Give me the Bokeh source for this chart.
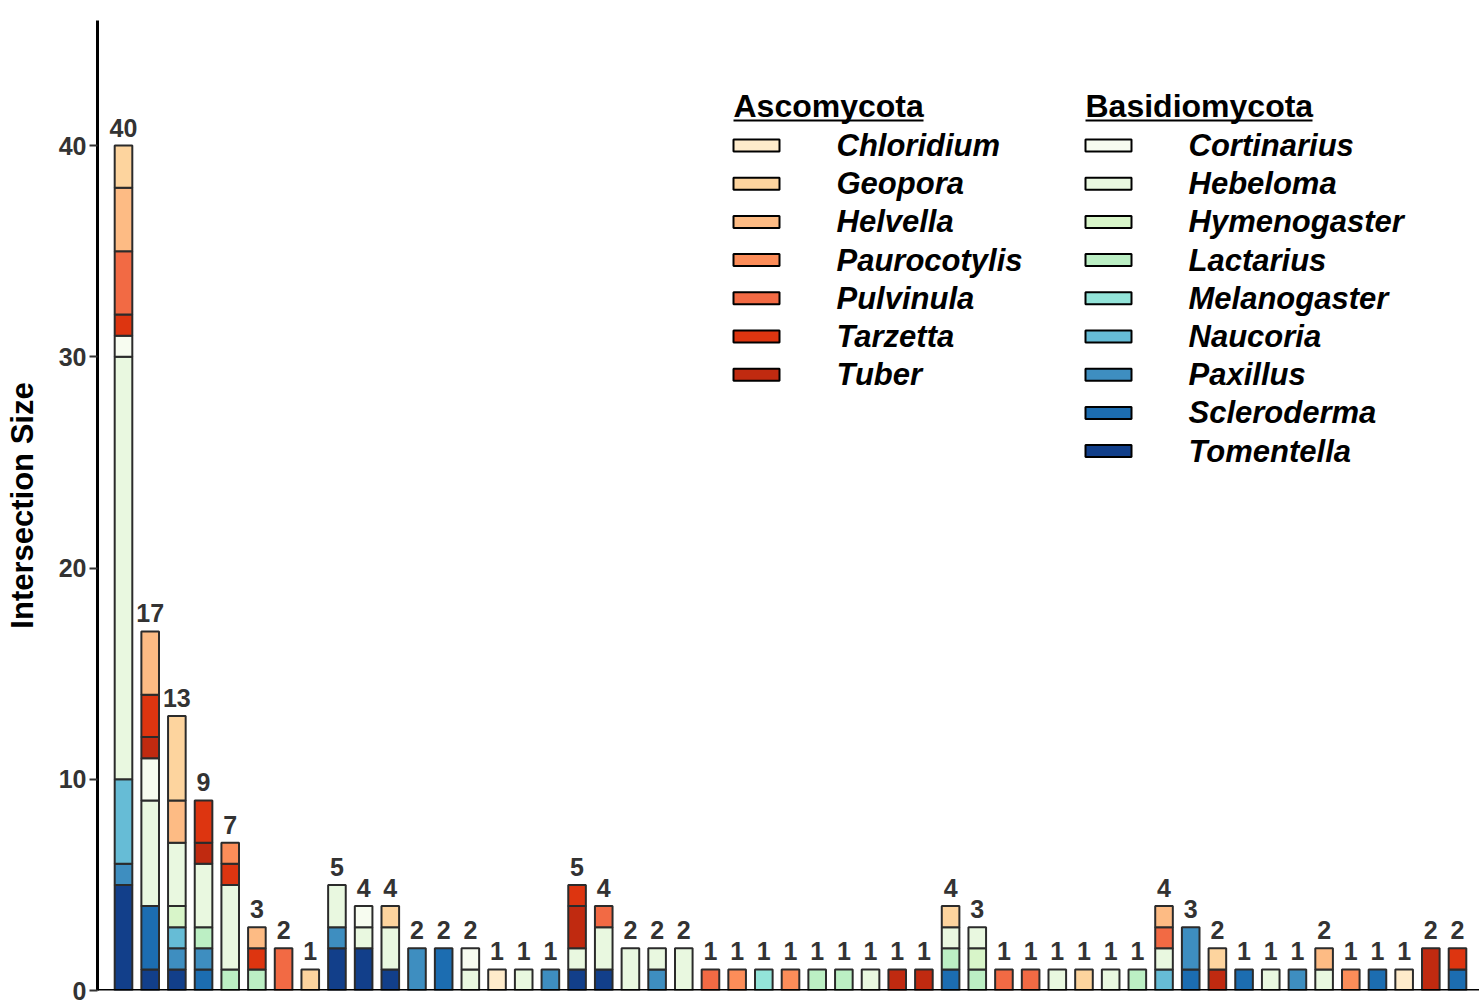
from bokeh.plotting import figure
from bokeh.models import Range1d, Span, ColumnDataSource
from bokeh.embed import file_html
from bokeh.resources import INLINE
from bokeh.core.properties import value

# ---------------- data ----------------
asco = ["Chloridium", "Geopora", "Helvella", "Paurocotylis", "Pulvinula", "Tarzetta", "Tuber"]
basidio = ["Cortinarius", "Hebeloma", "Hymenogaster", "Lactarius", "Melanogaster",
           "Naucoria", "Paxillus", "Scleroderma", "Tomentella"]
asco_colors = ["#feebcb", "#fdd49e", "#fdbb84", "#fc8d59", "#f26a44", "#dd3510", "#c02a10"]
basidio_colors = ["#f7fcf0", "#e9f8e0", "#d8f5c9", "#bcefc4", "#93e4d9",
                  "#66bcd6", "#3e8ec0", "#1c6db1", "#123f8a"]

bars = list(range(1, 52))

Tomentella   = [5,1,1,0,0,0,0,0,2,2, 1,0,0,0,0,0,0,1,1,0, 0,0,0,0,0,0,0,0,0,0, 0,0,0,0,0,0,0,0,0,0, 0,0,0,0,0,0,0,0,0,0,0]
Scleroderma  = [0,3,0,1,0,0,0,0,0,0, 0,0,2,0,0,0,0,0,0,0, 0,0,0,0,0,0,0,0,0,0, 0,1,0,0,0,0,0,0,0,0, 1,0,1,0,0,0,0,1,0,0,1]
Paxillus     = [1,0,1,1,0,0,0,0,1,0, 0,2,0,0,0,0,1,0,0,0, 1,0,0,0,0,0,0,0,0,0, 0,0,0,0,0,0,0,0,0,0, 2,0,0,0,1,0,0,0,0,0,0]
Naucoria     = [4,0,1,0,0,0,0,0,0,0, 0,0,0,0,0,0,0,0,0,0, 0,0,0,0,0,0,0,0,0,0, 0,0,0,0,0,0,0,0,0,1, 0,0,0,0,0,0,0,0,0,0,0]
Melanogaster = [0,0,0,0,0,0,0,0,0,0, 0,0,0,0,0,0,0,0,0,0, 0,0,0,0,1,0,0,0,0,0, 0,0,0,0,0,0,0,0,0,0, 0,0,0,0,0,0,0,0,0,0,0]
Lactarius    = [0,0,0,1,1,1,0,0,0,0, 0,0,0,0,0,0,0,0,0,0, 0,0,0,0,0,0,1,1,0,0, 0,1,1,0,0,0,0,0,1,0, 0,0,0,0,0,0,0,0,0,0,0]
Hymenogaster = [0,0,1,0,0,0,0,0,0,0, 0,0,0,0,0,0,0,0,0,0, 0,0,0,0,0,0,0,0,0,0, 0,0,1,0,0,0,0,0,0,0, 0,0,0,0,0,0,0,0,0,0,0]
Hebeloma     = [20,5,3,3,4,0,0,0,2,1, 2,0,0,1,0,1,0,1,2,2, 1,2,0,0,0,0,0,0,1,0, 0,1,1,0,0,1,0,1,0,1, 0,0,0,1,0,1,0,0,0,0,0]
Cortinarius  = [1,2,0,0,0,0,0,0,0,1, 0,0,0,1,0,0,0,0,0,0, 0,0,0,0,0,0,0,0,0,0, 0,0,0,0,0,0,0,0,0,0, 0,0,0,0,0,0,0,0,0,0,0]
Tuber        = [0,1,0,1,0,0,0,0,0,0, 0,0,0,0,0,0,0,2,0,0, 0,0,0,0,0,0,0,0,0,1, 1,0,0,0,0,0,0,0,0,0, 0,1,0,0,0,0,0,0,0,2,0]
Tarzetta     = [1,2,0,2,1,1,0,0,0,0, 0,0,0,0,0,0,0,1,0,0, 0,0,0,0,0,0,0,0,0,0, 0,0,0,0,0,0,0,0,0,0, 0,0,0,0,0,0,0,0,0,0,1]
Pulvinula    = [3,0,0,0,0,0,2,0,0,0, 0,0,0,0,0,0,0,0,1,0, 0,0,1,0,0,0,0,0,0,0, 0,0,0,1,1,0,0,0,0,1, 0,0,0,0,0,0,0,0,0,0,0]
Paurocotylis = [0,0,0,0,1,0,0,0,0,0, 0,0,0,0,0,0,0,0,0,0, 0,0,0,1,0,1,0,0,0,0, 0,0,0,0,0,0,0,0,0,0, 0,0,0,0,0,0,1,0,0,0,0]
Helvella     = [3,3,2,0,0,1,0,0,0,0, 0,0,0,0,0,0,0,0,0,0, 0,0,0,0,0,0,0,0,0,0, 0,0,0,0,0,0,0,0,0,1, 0,0,0,0,0,1,0,0,0,0,0]
Geopora      = [2,0,4,0,0,0,0,1,0,0, 1,0,0,0,0,0,0,0,0,0, 0,0,0,0,0,0,0,0,0,0, 0,1,0,0,0,0,1,0,0,0, 0,1,0,0,0,0,0,0,0,0,0]
Chloridium   = [0,0,0,0,0,0,0,0,0,0, 0,0,0,0,1,0,0,0,0,0, 0,0,0,0,0,0,0,0,0,0, 0,0,0,0,0,0,0,0,0,0, 0,0,0,0,0,0,0,0,1,0,0]

counts = {
    "Tomentella": Tomentella, "Scleroderma": Scleroderma, "Paxillus": Paxillus,
    "Naucoria": Naucoria, "Melanogaster": Melanogaster, "Lactarius": Lactarius,
    "Hymenogaster": Hymenogaster, "Hebeloma": Hebeloma, "Cortinarius": Cortinarius,
    "Tuber": Tuber, "Tarzetta": Tarzetta, "Pulvinula": Pulvinula,
    "Paurocotylis": Paurocotylis, "Helvella": Helvella, "Geopora": Geopora,
    "Chloridium": Chloridium,
}
color_of = dict(zip(asco + basidio, asco_colors + basidio_colors))
stack_order = basidio[::-1] + asco[::-1]   # bottom -> top

# ---------------- layout constants (pixels, canvas = page) ----------------
W, H = 1479, 1000
BL, BR, BT, BB = 97, 0, 20, 10
PXU_X = 26.68
X0 = 1 - 26 / PXU_X
X1 = X0 + (W - BL - BR) / PXU_X
FRAME_TOP = BT
FRAME_BOTTOM = H - BB
Y0 = 0.0
PXU_Y = 21.125
Y1 = Y0 + (FRAME_BOTTOM - FRAME_TOP) / PXU_Y


def fx(px):
    return X0 + (px - BL) / PXU_X


def fy(py):
    return Y0 + (FRAME_BOTTOM - py) / PXU_Y


# ---------------- build segments ----------------
seg = dict(x=[], bottom=[], top=[], color=[])
totals = []
for i, b in enumerate(bars):
    cum = 0
    for g in stack_order:
        v = counts[g][i]
        if v > 0:
            seg["x"].append(b)
            seg["bottom"].append(cum)
            seg["top"].append(cum + v)
            seg["color"].append(color_of[g])
            cum += v
    totals.append(cum)

p = figure(width=W, height=H, x_range=Range1d(X0, X1), y_range=Range1d(Y0, Y1),
           output_backend="svg", toolbar_location=None,
           min_border_left=BL, min_border_right=BR, min_border_top=BT, min_border_bottom=BB)
p.xaxis.visible = False
p.xgrid.visible = False
p.ygrid.visible = False
p.outline_line_color = None
p.background_fill_color = "white"
p.border_fill_color = "white"

p.yaxis.ticker = [0, 10, 20, 30, 40]
p.yaxis.axis_line_color = "black"
p.yaxis.axis_line_width = 3
p.yaxis.major_tick_line_color = "#333333"
p.yaxis.major_tick_line_width = 2
p.yaxis.major_tick_out = 8
p.yaxis.major_tick_in = 0
p.yaxis.minor_tick_line_color = None
p.yaxis.major_label_text_font = "Liberation Sans"
p.yaxis.major_label_text_font_style = "bold"
p.yaxis.major_label_text_font_size = "25px"
p.yaxis.major_label_text_color = "#333333"
p.yaxis.major_label_standoff = 3
p.yaxis.axis_label = "Intersection Size"
p.yaxis.axis_label_text_font = "Liberation Sans"
p.yaxis.axis_label_text_font_style = "bold"
p.yaxis.axis_label_text_font_size = "31px"
p.yaxis.axis_label_text_color = "black"
p.yaxis.axis_label_standoff = 16

src = ColumnDataSource(seg)
p.vbar(x="x", bottom="bottom", top="top", width=0.66, source=src,
       fill_color="color", line_color="#2b2b2b", line_width=2)

p.add_layout(Span(location=0, dimension="width", line_color="black", line_width=3))

p.text(x=bars, y=totals, text=[str(t) for t in totals],
       text_align="center", text_baseline="bottom", y_offset=-9,
       text_font=value("Liberation Sans"), text_font_style="bold",
       text_font_size="25px", text_color="#333333")

# ---------------- legend ----------------
ROW0, ROWSTEP = 145, 38.2
sw_w, sw_h = 46, 12
for names, cols, sw_left, txt_left, title, tw in [
        (asco, asco_colors, 733, 836, "Ascomycota", 190),
        (basidio, basidio_colors, 1085, 1188, "Basidiomycota", 227)]:
    ys = [ROW0 + k * ROWSTEP for k in range(len(names))]
    p.quad(left=[fx(sw_left)] * len(names), right=[fx(sw_left + sw_w)] * len(names),
           bottom=[fy(y + sw_h / 2) for y in ys], top=[fy(y - sw_h / 2) for y in ys],
           fill_color=cols, line_color="black", line_width=2)
    p.text(x=[fx(txt_left)] * len(names), y=[fy(y) for y in ys], text=names,
           text_align="left", text_baseline="middle",
           text_font=value("Liberation Sans"), text_font_style="bold italic",
           text_font_size="31px", text_color="black")
    p.text(x=[fx(sw_left)], y=[fy(105)], text=[title],
           text_align="left", text_baseline="middle",
           text_font=value("Liberation Sans"), text_font_style="bold",
           text_font_size="32px", text_color="black")
    p.segment(x0=[fx(sw_left)], x1=[fx(sw_left + tw)], y0=[fy(120)], y1=[fy(120)],
              line_color="black", line_width=2)

open("out.html", "w").write(file_html(p, INLINE))
